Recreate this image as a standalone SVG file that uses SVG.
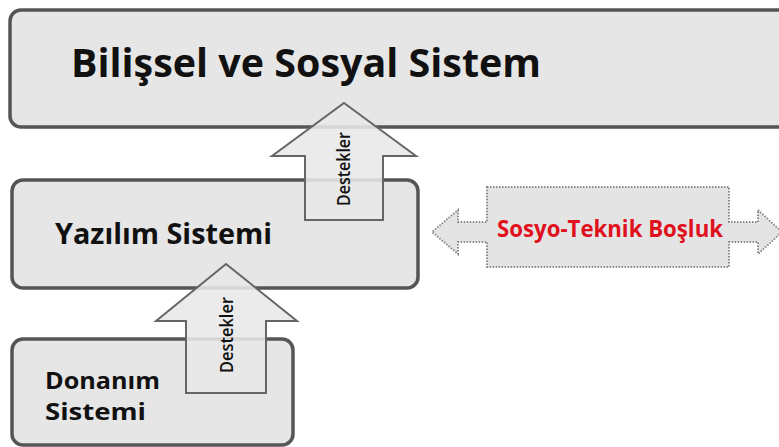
<svg xmlns="http://www.w3.org/2000/svg" width="779" height="447" viewBox="0 0 779 447">
  <style>
    .box { fill: #e6e6e6; stroke: #555555; stroke-width: 3.5; }
    .lbl { font-family: "Open Sans", "DejaVu Sans", sans-serif; font-weight: bold; fill: #111111; }
    .arrow { fill: #e8e8e8; fill-opacity: 0.88; stroke: #666666; stroke-width: 2; stroke-linejoin: miter; }
    .alabel { font-family: "Open Sans", "DejaVu Sans", sans-serif; font-weight: 600; font-size: 18px; fill: #111111; }
    .gap { fill: #e4e4e4; stroke: #8a8a8a; stroke-width: 2; stroke-dasharray: 1.5 1.5; }
    .gaplbl { font-family: "Open Sans", "DejaVu Sans", sans-serif; font-weight: bold; font-size: 23px; fill: #e0101c; }
  </style>
  <rect width="779" height="447" fill="#ffffff"/>

  <g id="bilissel-sosyal">
    <rect class="box" x="10" y="10" width="790" height="117" rx="11"/>
    <text class="lbl" x="71" y="77" font-size="39" textLength="470" lengthAdjust="spacingAndGlyphs">Bilişsel ve Sosyal Sistem</text>
  </g>

  <g id="yazilim">
    <rect class="box" x="12" y="180" width="406" height="108" rx="11"/>
    <text class="lbl" x="55" y="244" font-size="28" textLength="217" lengthAdjust="spacingAndGlyphs">Yazılım Sistemi</text>
  </g>

  <g id="donanim">
    <rect class="box" x="12" y="339" width="281" height="106" rx="11"/>
    <text class="lbl" x="45" y="389" font-size="24" textLength="115" lengthAdjust="spacingAndGlyphs">Donanım</text>
    <text class="lbl" x="45" y="420" font-size="24" textLength="101" lengthAdjust="spacingAndGlyphs">Sistemi</text>
  </g>

  <g id="sosyo-teknik-bosluk">
    <path class="gap" d="M487,187 H729 V222 H758 V210 L782,232 L758,254 V242 H729 V267 H487 V242 H458 V254 L432,232 L458,210 V222 H487 Z"/>
    <text class="gaplbl" x="497" y="237" textLength="226" lengthAdjust="spacingAndGlyphs">Sosyo-Teknik Boşluk</text>
  </g>

  <g id="connectors">
    <g id="destekler-ust">
      <polygon class="arrow" points="344,103 416,156 383,156 383,220 305,220 305,156 272,156"/>
      <text class="alabel" transform="translate(350,169) rotate(-90)" text-anchor="middle" textLength="74" lengthAdjust="spacingAndGlyphs">Destekler</text>
    </g>
    <g id="destekler-alt">
      <polygon class="arrow" points="226,264 297,321 266,321 266,393 186,393 186,321 156,321"/>
      <text class="alabel" transform="translate(233,335) rotate(-90)" text-anchor="middle" textLength="76" lengthAdjust="spacingAndGlyphs">Destekler</text>
    </g>
  </g>
</svg>
